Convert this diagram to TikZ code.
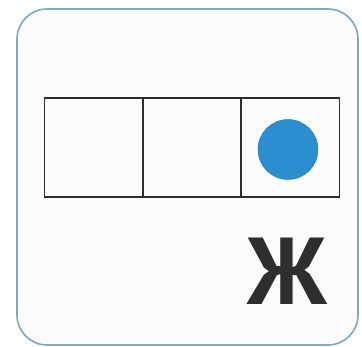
\documentclass[tikz,border=0pt]{standalone}
\usepackage{fontspec}
\newfontfamily\letterfont{PT Sans}
\definecolor{cardedge}{HTML}{7FA9C2}
\definecolor{cardfill}{HTML}{FDFCFC}
\definecolor{dotblue}{HTML}{2B8ED0}
\definecolor{ink}{HTML}{2E2E2E}
\tikzset{
  card/.style={draw=cardedge,line width=1.6pt,fill=cardfill,rounded corners=30pt},
  cell/.style={draw=ink,line width=1.3pt,minimum width=98pt,minimum height=99pt,inner sep=0pt},
  dot/.style={circle,fill=dotblue,draw=dotblue!80!black,line width=0.4pt,minimum size=60pt,inner sep=0pt},
  letter/.style={font=\letterfont\bfseries\fontsize{95}{95}\selectfont,text=ink,inner sep=0pt,anchor=base}
}
\begin{document}
\begin{tikzpicture}[x=1pt,y=-1pt]
\useasboundingbox (0,0) rectangle (362,347);
\fill[white] (0,0) rectangle (362,347);
\draw[card] (17,9) rectangle (358,345);
\node[cell] (c1) at (93.5,147.5) {};
\node[cell] (c2) at (192,147.5) {};
\node[cell] (c3) at (290.5,147.5) {};
\node[dot] (d) at (288,149.5) {};
\node[letter] (zh) at (287.5,305) {Ж};
\end{tikzpicture}
\end{document}
